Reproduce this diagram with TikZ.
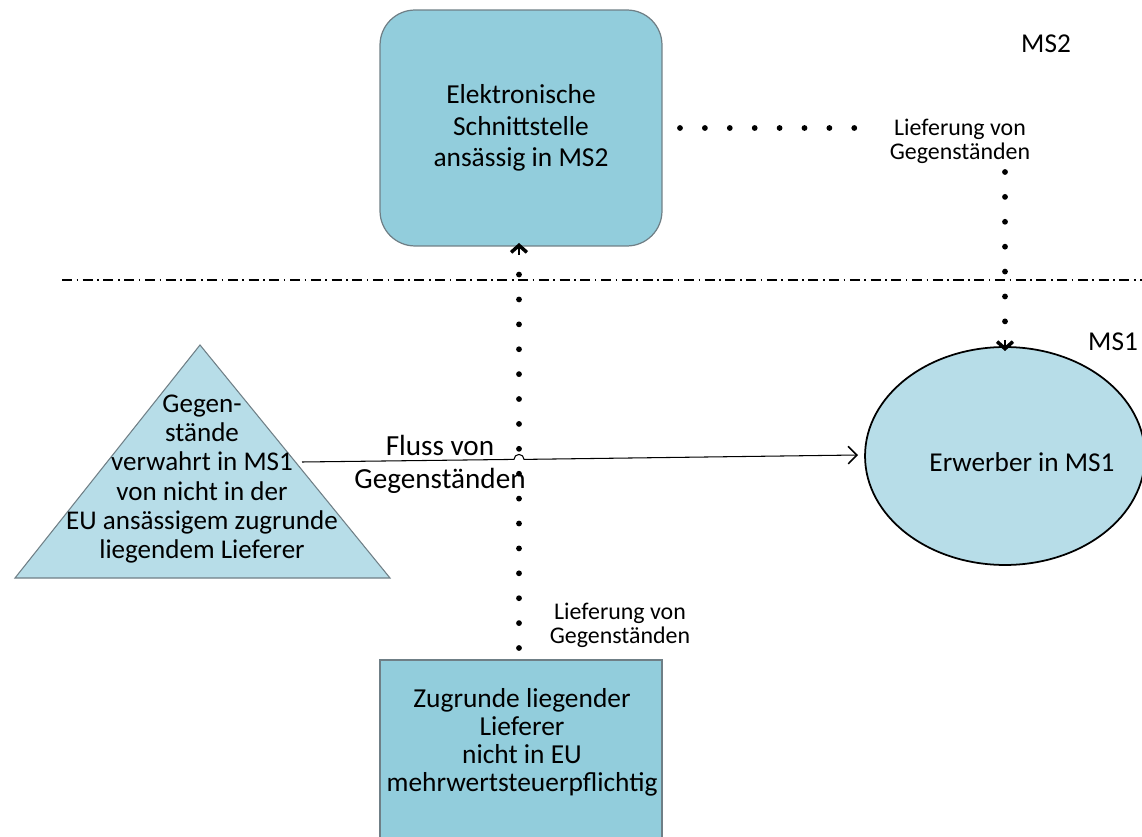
\documentclass[tikz,border=0pt]{standalone}
\usepackage{fontspec}
\setmainfont{Carlito}
\usetikzlibrary{arrows.meta,shapes.geometric}
\definecolor{boxblue}{HTML}{92CDDC}
\definecolor{lightblue}{HTML}{B7DDE8}
\definecolor{edgegray}{HTML}{6F7F86}
\tikzset{
  mainfont/.style={font=\fontsize{15.5}{17}\selectfont, align=center},
  smallfont/.style={font=\fontsize{13.6}{13.8}\selectfont, align=center},
  bluebox/.style={draw=edgegray, line width=0.7pt, fill=boxblue},
  dotline/.style={line width=3.3pt, line cap=round, dash pattern=on 0pt off 14.17pt},
  chevron/.style={-{Straight Barb[length=4pt,width=9pt,line width=2pt]}},
  border/.style={line width=1.2pt, dash pattern=on 5.7pt off 2.6pt on 0.9pt off 2.6pt},
}
\begin{document}
\begin{tikzpicture}[x=0.02cm,y=-0.02cm]
\useasboundingbox (0,0) rectangle (1142,837);

% member state border
\coordinate (borderL) at (62,280);
\coordinate (borderR) at (1142,280);
\draw[border] (borderL) -- (borderR);
\node[mainfont] (ms2) at (1046,44) {MS2};
\node[mainfont] (ms1) at (1113,342) {MS1};

% electronic interface
\node[bluebox, rounded corners=0.7cm, minimum width=5.64cm, minimum height=4.72cm,
      mainfont, font=\fontsize{15.6}{17.9}\selectfont] (esi) at (521,128)
  {Elektronische\\Schnittstelle\\ansässig in MS2};

% underlying supplier (box runs off the lower edge)
\node[bluebox, minimum width=5.64cm, minimum height=4.4cm] (supbox) at (521,770) {};
\node[mainfont, font=\fontsize{15.6}{15.9}\selectfont] (supplier) at (522,742)
  {Zugrunde liegender\\Lieferer\\nicht in EU\\mehrwertsteuerpflichtig};

% goods held in MS1
\draw[draw=edgegray, line width=0.6pt, fill=lightblue]
  (200,345) coordinate (apex) -- (390,578) coordinate (baseR) -- (15,578) coordinate (baseL) -- cycle;
\node[mainfont, font=\fontsize{15.4}{16.7}\selectfont] (goods) at (202,479)
  {Gegen-\\stände\\verwahrt in MS1\\von nicht in der\\EU ansässigem zugrunde\\liegendem Lieferer};

% customer
\node[draw=black, line width=1pt, fill=lightblue, ellipse, minimum width=5.6cm,
      minimum height=4.36cm] (buyer) at (1005,456) {};
\node[mainfont] (buyertext) at (1022,462) {Erwerber in MS1};

% supply from interface to customer
\coordinate (d1) at (680,128);
\coordinate (d2) at (860,128);
\draw[dotline] (d1) -- (d2);
\node[smallfont] (lab1) at (960,141) {Lieferung von\\Gegenständen};
\coordinate (d3) at (1005,172);
\coordinate (d4) at (1005,351);
\draw[dotline, shorten >=4pt] (d3) -- (d4);
\draw[chevron, line width=1pt] (1005,340) -- (d4);

% supply from supplier to interface
\coordinate (s1) at (519,648);
\coordinate (s2) at (519,243);
\draw[dotline, shorten >=12pt] (s1) -- (s2);
\draw[chevron, line width=1pt] (519,255) -- (s2);
\node[smallfont] (lab2) at (620,625) {Lieferung von\\Gegenständen};

% flow of goods with a hop over the dotted line
\coordinate (f1) at (302,462);
\coordinate (h1) at (514,459.4);
\coordinate (f2) at (858,455);
\draw[line width=0.6pt, -{Straight Barb[length=5pt,width=10pt,line width=0.9pt]}]
  (f1) -- (h1) arc[start angle=180, end angle=360, radius=5] -- (f2);
\node[mainfont, font=\fontsize{16.6}{18.7}\selectfont] (flow) at (440,464) {Fluss von\\Gegenständen};
\end{tikzpicture}
\end{document}
